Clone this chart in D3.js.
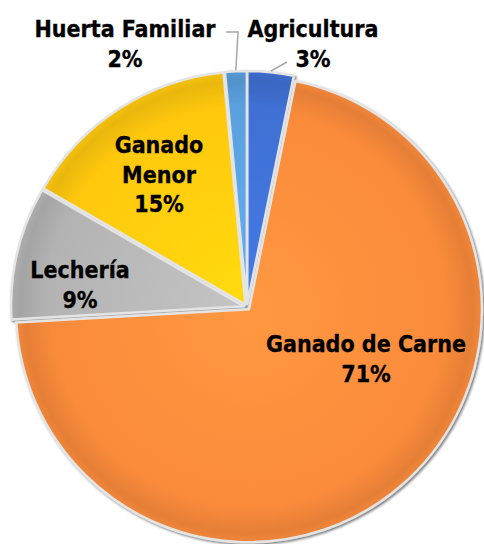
<!DOCTYPE html>
<html>
<head>
<meta charset="utf-8">
<script src="https://cdn.jsdelivr.net/npm/d3@7"></script>
<style>
    html, body { margin: 0; padding: 0; background: #fff; }
    svg { display: block; }
    .pie-label {
        font-family: 'DejaVu Sans Condensed', 'DejaVu Sans', sans-serif;
        font-weight: bold;
        font-size: 23px;
        fill: #000;
        stroke: #000;
        stroke-width: 0.3;
    }
</style>
</head>
<body>
<svg id="chart"></svg>
<script>
'use strict';

(function () {
    // data, clockwise from 12 o'clock (shares)
    const categories = ['Agricultura', 'Ganado de Carne', 'Lechería', 'Ganado Menor', 'Huerta Familiar'];
    const shares = [3.2, 70.9, 9.2, 15.2, 1.5];
    const labelLines = [
        ['Agricultura'],
        ['Ganado de Carne'],
        ['Lechería'],
        ['Ganado', 'Menor'],
        ['Huerta Familiar']
    ];
    const colors = ['#3f70d3', '#fa8b3b', '#b3b3b3', '#ffc80a', '#5aa0de'];

    // label placement (layout only)
    const labelPos = {
        'Agricultura': {x: 313, y: 37, outside: true, lineEnd: [287, 62]},
        'Ganado de Carne': {x: 366, y: 352},
        'Lechería': {x: 80, y: 278},
        'Ganado Menor': {x: 159, y: 153},
        'Huerta Familiar': {x: 125, y: 37, outside: true, lineEnd: [226, 32], elbow: [238, 32]}
    };

    const width = 484;
    const height = 544;
    const cx = 247;
    const cy = 307;
    const radius = 233;
    const explode = 3;
    const lineHeight = 29.5;

    const svg = d3.select('#chart')
        .attr('width', width)
        .attr('height', height);

    const defs = svg.append('defs');

    defs.append('filter')
        .attr('id', 'shadow')
        .attr('x', '-10%').attr('y', '-10%')
        .attr('width', '120%').attr('height', '120%')
        .append('feDropShadow')
        .attr('dx', 1.5)
        .attr('dy', 1.5)
        .attr('stdDeviation', 1.2)
        .attr('flood-color', '#444')
        .attr('flood-opacity', 0.7);

    colors.forEach(function (c, i) {
        const base = d3.color(c);
        const grad = defs.append('radialGradient')
            .attr('id', 'grad' + i)
            .attr('gradientUnits', 'userSpaceOnUse')
            .attr('cx', 0).attr('cy', 0)
            .attr('r', radius);
        grad.append('stop').attr('offset', '0%').attr('stop-color', base.brighter(0.25));
        grad.append('stop').attr('offset', '85%').attr('stop-color', base);
        grad.append('stop').attr('offset', '96%').attr('stop-color', base.darker(0.25));
        grad.append('stop').attr('offset', '100%').attr('stop-color', base.darker(0.1));
    });

    const pie = d3.pie()
        .sort(null)
        .value(function (d) { return d; });

    const arcs = pie(shares);

    const arc = d3.arc()
        .innerRadius(0)
        .outerRadius(radius);

    const rimArc = d3.arc()
        .innerRadius(radius + 1)
        .outerRadius(radius + 1);

    function offset(d, dist) {
        const a = (d.startAngle + d.endAngle) / 2;
        return [Math.sin(a) * dist, -Math.cos(a) * dist];
    }

    const g = svg.append('g')
        .attr('transform', 'translate(' + cx + ',' + cy + ')');

    g.append('g')
        .attr('filter', 'url(#shadow)')
        .selectAll('path')
        .data(arcs)
        .join('path')
        .attr('transform', function (d) {
            const o = offset(d, explode);
            return 'translate(' + o[0] + ',' + o[1] + ')';
        })
        .attr('d', arc)
        .attr('fill', function (d, i) { return 'url(#grad' + i + ')'; })
        .attr('stroke', '#e4e4e4')
        .attr('stroke-width', 2.5)
        .attr('stroke-linejoin', 'round');

    // leader lines for the outside labels
    arcs.forEach(function (d, i) {
        const pos = labelPos[categories[i]];
        if (!pos.outside) return;
        const o = offset(d, explode);
        const c = rimArc.centroid(d);
        const anchor = [cx + c[0] + o[0], cy + c[1] + o[1]];
        const pts = [pos.lineEnd];
        if (pos.elbow) pts.push(pos.elbow);
        pts.push(anchor);
        svg.append('path')
            .attr('d', d3.line()(pts))
            .attr('fill', 'none')
            .attr('stroke', '#a6a6a6')
            .attr('stroke-width', 1.5);
    });

    // labels
    const labels = svg.append('g');
    arcs.forEach(function (d, i) {
        const pos = labelPos[categories[i]];
        const lines = labelLines[i].concat([Math.round(d.value) + '%']);
        const text = labels.append('text')
            .attr('class', 'pie-label')
            .attr('text-anchor', 'middle');
        lines.forEach(function (line, k) {
            text.append('tspan')
                .attr('x', pos.x)
                .attr('y', pos.y + k * lineHeight)
                .text(line);
        });
    });
})();
</script>
</body>
</html>
